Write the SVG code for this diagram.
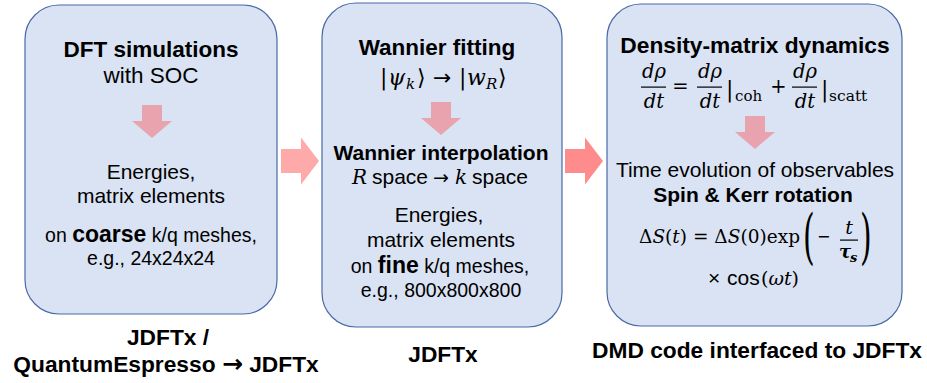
<svg xmlns="http://www.w3.org/2000/svg" width="927" height="383" viewBox="0 0 927 383">
  <style>
    .box { fill: #DAE3F3; stroke: #4A69A6; stroke-width: 1.2; }
    .flow1 { fill: #FFAAAA; }
    .flow2 { fill: #FF8C8C; }
    .inner { fill: #E8A3AE; }
    text { fill: #000; }
    .sans { font-family: "Liberation Sans", Arial, sans-serif; }
    .b { font-weight: bold; }
    .math { font-family: "DejaVu Serif", "Liberation Serif", serif; }
    .mi { font-style: italic; }
    .sym { font-family: "DejaVu Sans", sans-serif; }
    .c { text-anchor: middle; }
  </style>
  <defs>
    <!-- block arrow pointing down, origin at shaft top centre -->
    <path id="down" d="M-10,0 H10 V16 H20 L0,33 L-20,16 H-10 Z"/>
    <!-- block arrow pointing right, origin at shaft left middle -->
    <path id="right" d="M0,-12 H20 V-23.5 L38,0 L20,23.5 V12 H0 Z"/>
  </defs>

  <!-- connectors between stages -->
  <g id="connectors">
    <use href="#right" class="flow1" x="281" y="161"/>
    <use href="#right" class="flow2" x="565" y="161"/>
  </g>

  <!-- stage 1: DFT -->
  <g id="node-dft">
    <rect class="box" x="25" y="5" width="252" height="309" rx="34" ry="34"/>
    <text class="sans b c" x="151" y="57" font-size="22.5">DFT simulations</text>
    <text class="sans c" x="151" y="83" font-size="22.5">with SOC</text>
    <use href="#down" class="inner" x="152" y="105"/>
    <text class="sans c" x="151" y="179" font-size="21">Energies,</text>
    <text class="sans c" x="151" y="203" font-size="21">matrix elements</text>
    <text class="sans c" x="151" y="242" font-size="19.5">on <tspan class="b" font-size="23">coarse</tspan> k/q meshes,</text>
    <text class="sans c" x="151" y="265" font-size="19.5">e.g., 24x24x24</text>
    <text class="sans b c" x="168" y="345" font-size="22.75">JDFTx /</text>
    <text class="sans b c" x="166" y="372" font-size="22.75">QuantumEspresso <tspan class="sym" font-size="25">→</tspan> JDFTx</text>
  </g>

  <!-- stage 2: Wannier -->
  <g id="node-wannier">
    <rect class="box" x="322" y="3" width="240" height="324" rx="34" ry="34"/>
    <text class="sans b c" x="437" y="55" font-size="22.5">Wannier fitting</text>
    <text class="math" y="85" font-size="22">
      <tspan x="380">|</tspan><tspan class="mi" x="388">ψ</tspan><tspan class="mi" x="406" dy="4" font-size="15">k</tspan><tspan class="sym" x="417" dy="-4">⟩</tspan><tspan class="sym" x="433">→</tspan><tspan x="459">|</tspan><tspan class="mi" x="467">w</tspan><tspan class="mi" x="486" dy="4" font-size="15">R</tspan><tspan class="sym" x="498" dy="-4">⟩</tspan>
    </text>
    <use href="#down" class="inner" x="441" y="102"/>
    <text class="sans b c" x="441" y="160" font-size="21">Wannier interpolation</text>
    <text y="184" font-size="21">
      <tspan class="math mi" x="352" font-size="20">R</tspan><tspan class="sans" x="372">space</tspan><tspan class="sym" x="433" font-size="19">→</tspan><tspan class="math mi" x="455" font-size="20">k</tspan><tspan class="sans" x="472">space</tspan>
    </text>
    <text class="sans c" x="439" y="222" font-size="21">Energies,</text>
    <text class="sans c" x="441" y="247" font-size="21">matrix elements</text>
    <text class="sans c" x="440" y="273" font-size="19.5">on <tspan class="b" font-size="23">fine</tspan> k/q meshes,</text>
    <text class="sans c" x="441" y="297" font-size="19.5">e.g., 800x800x800</text>
    <text class="sans b c" x="443" y="362" font-size="22.75">JDFTx</text>
  </g>

  <!-- stage 3: density-matrix dynamics -->
  <g id="node-dmd">
    <rect class="box" x="607" y="4" width="295" height="322" rx="34" ry="34"/>
    <text class="sans b c" x="755" y="53" font-size="22.75">Density-matrix dynamics</text>

    <!-- master equation -->
    <g class="math" font-size="19.5">
      <text class="mi c" x="654" y="78">dρ</text>
      <rect x="641" y="86.5" width="25" height="1.2"/>
      <text class="mi c" x="654" y="108">dt</text>
      <text class="c" x="680.5" y="93">=</text>
      <text class="mi c" x="710" y="78">dρ</text>
      <rect x="697" y="86.5" width="25" height="1.2"/>
      <text class="mi c" x="710" y="108">dt</text>
      <text x="726" y="97" font-size="22">|</text>
      <text x="735" y="101" font-size="15">coh</text>
      <text class="c" x="778.5" y="93">+</text>
      <text class="mi c" x="805" y="78">dρ</text>
      <rect x="792" y="86.5" width="25" height="1.2"/>
      <text class="mi c" x="805" y="108">dt</text>
      <text x="821" y="97" font-size="22">|</text>
      <text x="829" y="101" font-size="15.5">scatt</text>
    </g>

    <use href="#down" class="inner" x="755" y="116"/>
    <text class="sans c" x="755" y="177" font-size="21">Time evolution of observables</text>
    <text class="sans b c" x="753" y="202" font-size="21">Spin &amp; Kerr rotation</text>

    <!-- spin decay law -->
    <g class="math">
      <text x="639" y="243" font-size="18.5" textLength="161" lengthAdjust="spacing">Δ<tspan class="mi">S</tspan>(<tspan class="mi">t</tspan>) = Δ<tspan class="mi">S</tspan>(0)exp</text>
      <text transform="translate(803,257) scale(0.5,1)" font-size="60">(</text>
      <text class="sym" x="817" y="242" font-size="16">−</text>
      <text class="mi c" x="849" y="234" font-size="19">t</text>
      <rect x="840" y="239.5" width="18" height="1.2"/>
      <text class="mi b" x="839" y="258" font-size="18">τ</text>
      <text class="mi b" x="850" y="262" font-size="13">s</text>
      <text transform="translate(860,257) scale(0.5,1)" font-size="60">)</text>
      <text y="285" font-size="19"><tspan class="sans" x="708" font-size="21">×</tspan><tspan class="sans" x="727" font-size="21">cos</tspan><tspan x="761">(</tspan><tspan class="mi">ω</tspan><tspan class="mi">t</tspan><tspan>)</tspan></text>
    </g>
    <text class="sans b c" x="757" y="358" font-size="22.75">DMD code interfaced to JDFTx</text>
  </g>
</svg>
